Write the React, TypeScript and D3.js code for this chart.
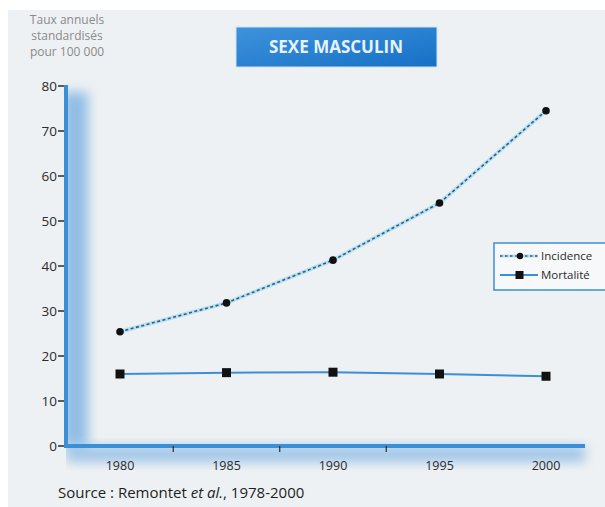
import React from 'react';
import * as d3 from 'd3';

const W = 605;
const H = 507;
const blue = '#3b8fd6';
const dark = '#2b2b2b';

const years = [1980, 1985, 1990, 1995, 2000];
const incidence = [25.4, 31.8, 41.3, 54.0, 74.5];
const mortalite = [16.0, 16.3, 16.4, 16.0, 15.5];
const yTicks = [0, 10, 20, 30, 40, 50, 60, 70, 80];
const xMinorTicks = [1982.5, 1987.5, 1992.5];

const font = '"Open Sans", "DejaVu Sans", sans-serif';

export default function App() {
  const x = d3.scaleLinear().domain([1980, 2000]).range([120, 546]);
  const y = d3.scaleLinear().domain([0, 80]).range([446, 86]);
  const axisX0 = 66;
  const axisX1 = 585;

  const line = d3
    .line<number>()
    .x((_, i) => x(years[i]))
    .y((d) => y(d));

  return (
    <svg width={W} height={H} style={{ position: 'absolute', left: 0, top: 0 }}>
      <defs>
        <filter id="blur" x="-50%" y="-50%" width="200%" height="200%">
          <feGaussianBlur stdDeviation="6" />
        </filter>
        <linearGradient id="title" x1="0" y1="0" x2="1" y2="1">
          <stop offset="0" stopColor="#3f93dc" />
          <stop offset="1" stopColor="#1670c6" />
        </linearGradient>
        <clipPath id="plotClip">
          <rect x={axisX0} y={80} width={W - axisX0} height={H - 80} />
        </clipPath>
      </defs>
      <rect x={0} y={0} width={W} height={H} fill="#fff" />
      <rect x={8} y={10} width={W - 8} height={H - 10} fill="#eef1f3" />

      {/* y label */}
      {['Taux annuels', 'standardisés', 'pour 100 000'].map((t, i) => (
        <text
          key={t}
          x={67}
          y={24 + i * 16}
          textAnchor="middle"
          fontFamily={font}
          fontSize={12}
          fill="#8a8a8a"
        >
          {t}
        </text>
      ))}

      {/* title */}
      <rect x={236} y={27} width={201} height={40} fill="url(#title)" stroke="#cfe2f3" strokeWidth={1} />
      <text
        x={336}
        y={53}
        textAnchor="middle"
        fontFamily={font}
        fontWeight="bold"
        fontSize={17}
        fill="#e8f2fb"
      >
        SEXE MASCULIN
      </text>

      {/* axis shadows */}
      <g clipPath="url(#plotClip)">
        <rect x={axisX0 - 4} y={92} width={26} height={354} fill="#6aa8e0" opacity={0.7} filter="url(#blur)" />
        <rect x={axisX0} y={446} width={axisX1 - axisX0} height={16} fill="#6aa8e0" opacity={0.6} filter="url(#blur)" />
      </g>

      {/* y ticks */}
      {yTicks.map((t) => (
        <g key={t}>
          <line x1={58} x2={65} y1={y(t)} y2={y(t)} stroke={dark} strokeWidth={1.5} />
          <text
            x={57}
            y={y(t) + 5}
            textAnchor="end"
            fontFamily={font}
            fontSize={13.5}
            fill={dark}
          >
            {t}
          </text>
        </g>
      ))}

      {/* axes */}
      <line x1={axisX0} x2={axisX0} y1={y(80) - 1} y2={y(0) + 2} stroke={blue} strokeWidth={4} />
      <line x1={axisX0 - 2} x2={axisX1} y1={y(0)} y2={y(0)} stroke={blue} strokeWidth={4} />

      {xMinorTicks.map((t) => (
        <line key={t} x1={x(t)} x2={x(t)} y1={y(0)} y2={y(0) + 6} stroke={dark} strokeWidth={1.2} />
      ))}
      {years.map((t) => (
        <text
          key={t}
          x={x(t)}
          y={470}
          textAnchor="middle"
          fontFamily={font}
          fontSize={12.5}
          fill={dark}
        >
          {t}
        </text>
      ))}

      {/* incidence */}
      <path d={line(incidence) || ''} fill="none" stroke="#b4e2f5" strokeWidth={4} />
      <path d={line(incidence) || ''} fill="none" stroke="#3c5a78" strokeWidth={1.6} strokeDasharray="3,2.5" />
      {incidence.map((v, i) => (
        <circle key={i} cx={x(years[i])} cy={y(v)} r={3.8} fill="#111" />
      ))}

      {/* mortalite */}
      <path d={line(mortalite) || ''} fill="none" stroke={blue} strokeWidth={2} />
      {mortalite.map((v, i) => (
        <rect key={i} x={x(years[i]) - 4.5} y={y(v) - 4.5} width={9} height={9} fill="#111" />
      ))}

      {/* legend */}
      <rect x={494} y={243} width={116} height={47} fill="#f6f8fa" stroke={blue} strokeWidth={1.5} />
      <line x1={500} x2={538} y1={256} y2={256} stroke="#b4e2f5" strokeWidth={3} />
      <line x1={500} x2={538} y1={256} y2={256} stroke="#3c5a78" strokeWidth={1.5} strokeDasharray="2.5,2.5" />
      <circle cx={520} cy={256} r={3.2} fill="#111" />
      <text x={541} y={260} fontFamily={font} fontSize={11.5} fill={dark}>
        Incidence
      </text>
      <line x1={500} x2={538} y1={275} y2={275} stroke={blue} strokeWidth={2} />
      <rect x={515.5} y={271} width={8} height={8} fill="#111" />
      <text x={541} y={279} fontFamily={font} fontSize={11.5} fill={dark}>
        Mortalité
      </text>

      {/* source */}
      <text x={58} y={498} fontFamily={font} fontSize={15} fill="#1e1e1e">
        Source : Remontet <tspan fontStyle="italic">et al.</tspan>, 1978-2000
      </text>
    </svg>
  );
}
